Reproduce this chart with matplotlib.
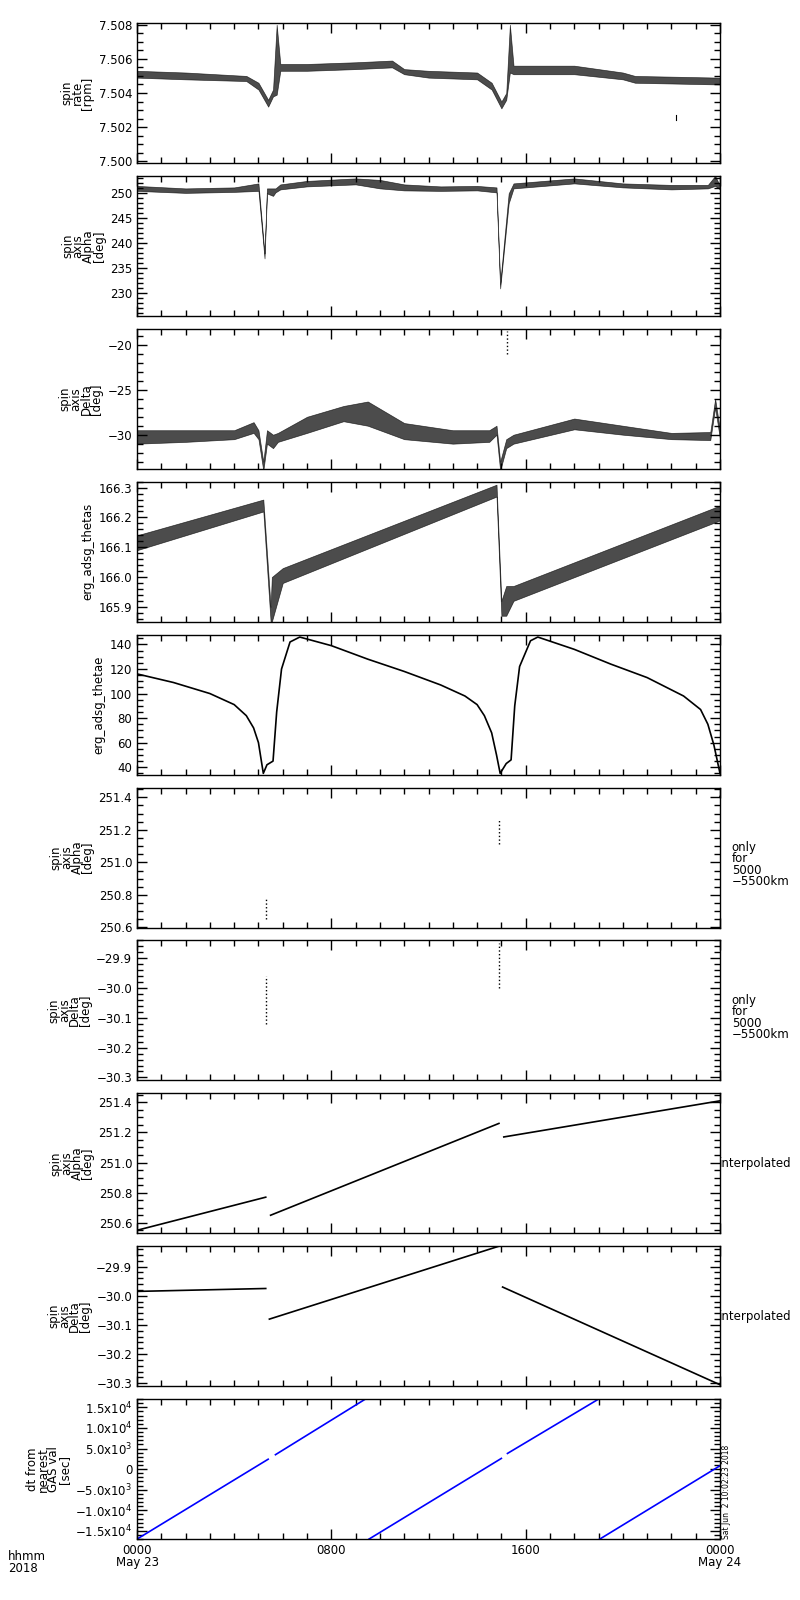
import matplotlib
matplotlib.use("Agg")
import matplotlib.pyplot as plt
from matplotlib.ticker import MultipleLocator, FixedLocator
import numpy as np

# ---------------- data (hours since 2018-05-23 00:00) ----------------
rate_t  = [0.0, 2.0, 4.5, 5.0, 5.4, 5.6, 5.75, 5.9, 7.0, 9.0, 10.5, 11.0, 12.0, 14.0, 14.6, 15.0, 15.2, 15.35, 15.5, 18.0, 20.0, 20.5, 24.0]
rate_lo = [7.5049, 7.5048, 7.5047, 7.5042, 7.5032, 7.5038, 7.5039, 7.5053, 7.5053, 7.5054, 7.5055, 7.5051, 7.5049, 7.5048, 7.5042, 7.5031, 7.5036, 7.5052, 7.5051, 7.5051, 7.5048, 7.5046, 7.5045]
rate_hi = [7.5053, 7.5052, 7.5050, 7.5046, 7.5036, 7.5042, 7.5080, 7.5057, 7.5057, 7.5058, 7.5059, 7.5054, 7.5053, 7.5052, 7.5046, 7.5035, 7.5040, 7.5080, 7.5056, 7.5056, 7.5052, 7.5050, 7.5049]
rate_out_t = [22.2, 22.2]
rate_out_v = [7.5024, 7.5027]

alp_t  = [0.0, 2.0, 4.0, 5.0, 5.25, 5.35, 5.6, 5.7, 5.9, 7.0, 9.0, 10.0, 11.0, 12.5, 14.0, 14.8, 14.95, 15.3, 15.5, 18.0, 20.0, 22.0, 23.5, 23.8, 24.0]
alp_lo = [250.5, 250.1, 250.3, 250.5, 237.0, 250.0, 249.5, 250.2, 250.8, 251.4, 251.8, 251.0, 250.6, 250.5, 250.6, 250.2, 231.0, 248.0, 251.0, 252.0, 251.2, 250.8, 251.0, 251.5, 250.8]
alp_hi = [251.5, 251.0, 251.2, 252.0, 238.0, 251.0, 251.0, 251.0, 251.8, 252.5, 253.0, 252.7, 251.8, 251.4, 251.5, 251.2, 232.0, 250.0, 252.0, 253.0, 252.0, 251.7, 251.7, 253.5, 251.5]

dlt_t  = [0.0, 2.0, 4.0, 4.8, 5.0, 5.2, 5.35, 5.6, 5.8, 7.0, 8.5, 9.5, 11.0, 13.0, 14.5, 14.8, 14.95, 15.2, 15.5, 18.0, 20.0, 22.0, 23.6, 23.8, 24.0]
dlt_lo = [-31.0, -30.8, -30.5, -29.8, -30.5, -34.0, -31.0, -31.5, -30.8, -29.8, -28.5, -29.0, -30.5, -31.0, -30.8, -30.0, -34.0, -31.5, -31.0, -29.4, -30.0, -30.5, -30.6, -27.0, -30.5]
dlt_hi = [-29.5, -29.5, -29.5, -28.6, -29.5, -33.0, -29.5, -30.0, -29.8, -28.0, -26.8, -26.3, -28.7, -29.5, -29.5, -29.0, -33.0, -30.5, -30.0, -28.2, -29.0, -29.8, -29.7, -26.0, -29.5]
dlt_out_t = [15.25, 15.25]
dlt_out_v = [-21.0, -18.5]

ths_t  = [0.0, 5.2, 5.5, 5.55, 6.0, 14.8, 15.0, 15.2, 15.5, 24.0]
ths_lo = [166.09, 166.22, 165.85, 165.85, 165.98, 166.27, 165.87, 165.87, 165.92, 166.19]
ths_hi = [166.14, 166.26, 165.90, 166.00, 166.03, 166.31, 165.92, 165.97, 165.97, 166.24]

the_t = [0.0, 1.5, 3.0, 4.0, 4.5, 4.8, 5.0, 5.2, 5.35, 5.6, 5.75, 5.95, 6.3, 6.7, 8.0, 9.5, 11.0, 12.5, 13.5, 14.0, 14.3, 14.6, 14.8, 14.95, 15.2, 15.4, 15.55, 15.75, 16.2, 16.5, 18.0, 19.5, 21.0, 22.5, 23.2, 23.5, 23.75, 24.0]
the_v = [116, 109, 100, 91, 82, 72, 60, 35, 42, 45, 85, 120, 142, 146, 139, 128, 118, 107, 98, 91, 82, 68, 50, 35, 43, 46, 90, 122, 143, 146, 136, 124, 113, 98, 87, 75, 58, 35]

a5_t = [5.3, 5.3, 14.9, 14.9, 24.0]
a5_v = [250.65, 250.78, 251.11, 251.26, 251.41]
d5_t = [5.3, 5.3, 14.9, 14.9]
d5_v = [-30.12, -29.96, -30.0, -29.85]

ai_t = [[0.0, 5.3], [5.5, 14.9], [15.1, 24.0]]
ai_v = [[250.55, 250.77], [250.65, 251.26], [251.17, 251.41]]
di_t = [[0.0, 5.3], [5.45, 14.9], [15.05, 24.0]]
di_v = [[-29.985, -29.975], [-30.08, -29.83], [-29.97, -30.305]]

dt_t = [[0.0, 5.4], [5.7, 9.4], [9.55, 15.0], [15.25, 19.0], [19.05, 24.0]]
dt_v = [[-17000, 2400], [3500, 17000], [-17000, 2600], [3800, 17000], [-17000, 820]]

xtick_h = [0, 8, 16, 24]
xtick_lbl = ["0000\nMay 23", "0800", "1600", "0000\nMay 24"]

# ---------------- figure ----------------
plt.rcParams['font.family'] = ['DejaVu Sans']
plt.rcParams['font.size'] = 8.5
W, H = 800, 1600
fig = plt.figure(figsize=(8, 16), dpi=100)
L, R = 137, 720
tops = [23 + i * 152.9 for i in range(10)]
ph = 140
axes = []
for tp in tops:
    ax = fig.add_axes([L / W, 1 - (tp + ph) / H, (R - L) / W, ph / H])
    ax.set_xlim(0, 24)
    ax.xaxis.set_major_locator(FixedLocator(xtick_h))
    ax.xaxis.set_minor_locator(MultipleLocator(1))
    ax.tick_params(which='both', direction='in', top=True, right=True, labelbottom=False, width=1)
    ax.tick_params(which='major', length=7)
    ax.tick_params(which='minor', length=4)
    for s in ax.spines.values():
        s.set_linewidth(1)
    axes.append(ax)

def band(ax, t, lo, hi):
    ax.fill_between(t, lo, hi, color='black', linewidth=0.5, alpha=0.7)

def ylab(ax, s):
    ax.set_ylabel(s, linespacing=0.75, labelpad=3)

a = axes[0]
band(a, rate_t, rate_lo, rate_hi)
a.plot(rate_out_t, rate_out_v, 'k-', lw=0.8)
a.set_ylim(7.4999, 7.5081)
a.yaxis.set_major_locator(MultipleLocator(0.002))
a.yaxis.set_minor_locator(MultipleLocator(0.0005))
a.yaxis.set_major_formatter(lambda v, p: f"{v:.3f}")
ylab(a, "spin\nrate\n[rpm]")

a = axes[1]
band(a, alp_t, alp_lo, alp_hi)
a.set_ylim(225.5, 253.5)
a.yaxis.set_major_locator(MultipleLocator(5))
a.yaxis.set_minor_locator(MultipleLocator(1))
ylab(a, "spin\naxis\nAlpha\n[deg]")

a = axes[2]
band(a, dlt_t, dlt_lo, dlt_hi)
a.plot(dlt_out_t, dlt_out_v, 'k:', lw=1)
a.set_ylim(-33.8, -18.2)
a.yaxis.set_major_locator(MultipleLocator(5))
a.yaxis.set_minor_locator(MultipleLocator(1))
a.yaxis.set_major_formatter(lambda v, p: f"{v:.0f}".replace('-', '\u2212'))
ylab(a, "spin\naxis\nDelta\n[deg]")

a = axes[3]
band(a, ths_t, ths_lo, ths_hi)
a.set_ylim(165.85, 166.32)
a.yaxis.set_major_locator(MultipleLocator(0.1))
a.yaxis.set_minor_locator(MultipleLocator(0.02))
a.yaxis.set_major_formatter(lambda v, p: f"{v:.1f}")
ylab(a, "erg_adsg_thetas")

a = axes[4]
a.plot(the_t, the_v, 'k-', lw=1.2)
a.set_ylim(34, 148)
a.yaxis.set_major_locator(MultipleLocator(20))
a.yaxis.set_minor_locator(MultipleLocator(5))
ylab(a, "erg_adsg_thetae")

a = axes[5]
a.plot(a5_t[:2], a5_v[:2], 'k:', lw=1)
a.plot(a5_t[2:4], a5_v[2:4], 'k:', lw=1)
a.plot(a5_t[4:], a5_v[4:], 'k.', ms=1.5)
a.set_ylim(250.6, 251.46)
a.yaxis.set_major_locator(MultipleLocator(0.2))
a.yaxis.set_minor_locator(MultipleLocator(0.05))
a.yaxis.set_major_formatter(lambda v, p: f"{v:.1f}")
ylab(a, "spin\naxis\nAlpha\n[deg]")

a = axes[6]
a.plot(d5_t[:2], d5_v[:2], 'k:', lw=1)
a.plot(d5_t[2:], d5_v[2:], 'k:', lw=1)
a.set_ylim(-30.31, -29.84)
a.yaxis.set_major_locator(MultipleLocator(0.1))
a.yaxis.set_minor_locator(MultipleLocator(0.02))
a.yaxis.set_major_formatter(lambda v, p: f"{v:.1f}".replace('-', '\u2212'))
ylab(a, "spin\naxis\nDelta\n[deg]")

a = axes[7]
for t, v in zip(ai_t, ai_v):
    a.plot(t, v, 'k-', lw=1.2)
a.set_ylim(250.53, 251.46)
a.yaxis.set_major_locator(MultipleLocator(0.2))
a.yaxis.set_minor_locator(MultipleLocator(0.05))
a.yaxis.set_major_formatter(lambda v, p: f"{v:.1f}")
ylab(a, "spin\naxis\nAlpha\n[deg]")

a = axes[8]
for t, v in zip(di_t, di_v):
    a.plot(t, v, 'k-', lw=1.2)
a.set_ylim(-30.31, -29.83)
a.yaxis.set_major_locator(MultipleLocator(0.1))
a.yaxis.set_minor_locator(MultipleLocator(0.02))
a.yaxis.set_major_formatter(lambda v, p: f"{v:.1f}".replace('-', '\u2212'))
ylab(a, "spin\naxis\nDelta\n[deg]")

def sci(v, p):
    if abs(v) < 1:
        return "0"
    e = int(np.floor(np.log10(abs(v))))
    m = v / 10 ** e
    return f"{m:.1f}".replace('-', '\u2212') + r"x10$^{%d}$" % e

a = axes[9]
for t, v in zip(dt_t, dt_v):
    a.plot(t, v, color='blue', lw=1.2)
a.set_ylim(-17000, 17000)
a.yaxis.set_major_locator(MultipleLocator(5000))
a.yaxis.set_minor_locator(MultipleLocator(1000))
a.yaxis.set_major_formatter(sci)
ylab(a, "dt from\nnearest\nGAS val\n[sec]")
a.tick_params(labelbottom=True)
a.set_xticklabels(xtick_lbl, linespacing=0.9)
a.text(1.003, 0.0, "Sat Jun  2 10:02:23 2018", transform=a.transAxes, rotation=90,
       fontsize=5.5, va='bottom', ha='left')
fig.text(8 / W, 1 - 1550 / H, "hhmm\n2018", ha='left', va='top', linespacing=0.9)

for i in (5, 6):
    axes[i].text(1.02, 0.45, "only\nfor\n5000\n\u22125500km", transform=axes[i].transAxes,
                 ha='left', va='center', linespacing=0.85)
for i in (7, 8):
    axes[i].text(0.998, 0.5, "interpolated", transform=axes[i].transAxes, ha='left', va='center')

fig.savefig("out.png", dpi=100)
